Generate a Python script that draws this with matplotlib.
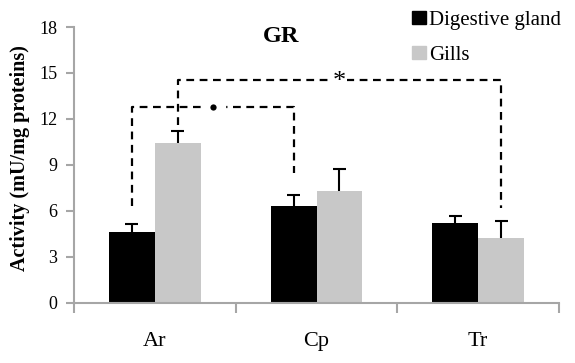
import numpy as np
import matplotlib.pyplot as plt
from matplotlib.patches import Patch

plt.rcParams['font.family'] = ['Liberation Serif', 'DejaVu Serif']

# GR activity per site and tissue (mean, upper SD)
sites = ['Ar', 'Cp', 'Tr']
tissues = ['Digestive gland', 'Gills']
digestive = [4.64, 6.32, 5.19]
digestive_err = [0.48, 0.72, 0.50]
gills = [10.42, 7.32, 4.21]
gills_err = [0.80, 1.42, 1.13]

# significance brackets: (bar a, bar b, bracket height, leg ends a/b, mark)
# bars are given as (site index, tissue index)
brackets = [
    ((0, 0), (1, 0), 12.8, 6.3, 8.5, '•'),
    ((0, 1), (2, 1), 14.55, 11.6, 6.2, '*'),
]

black = '#000000'
grey = '#c8c8c8'
spine = '#a6a6a6'

fig = plt.figure(figsize=(5.75, 3.63), dpi=100)
ax = fig.add_axes([74 / 575, 1 - 302.7 / 363, (559 - 74) / 575, (302.7 - 27) / 363])

x = np.arange(len(sites))
w = 0.284
offs = [-w / 2, w / 2]
cap = 0.04

for vals, errs, col, off in [(digestive, digestive_err, black, offs[0]),
                             (gills, gills_err, grey, offs[1])]:
    xs = x + off
    ax.bar(xs, vals, w, color=col, zorder=2)
    tops = np.array(vals) + np.array(errs)
    # upper-only error bars
    ax.vlines(xs, vals, tops, color='black', lw=1.5, zorder=3)
    ax.hlines(tops, xs - cap, xs + cap, color='black', lw=1.5, zorder=3)

dash = (0, (3.5, 2.5))
for a, b, h, ya, yb, mark in brackets:
    xa = a[0] + offs[a[1]]
    xb = b[0] + offs[b[1]]
    ax.plot([xa, xa, xb, xb], [ya, h, h, yb], color='black', lw=1.6,
            linestyle=dash, zorder=3)
    if mark == '•':
        ax.plot((xa + xb) / 2, h, 'o', color='black', ms=4.5, zorder=5,
                markeredgewidth=0)
        ax.add_patch(plt.Rectangle(((xa + xb) / 2 - 0.075, h - 0.3), 0.15, 0.6,
                                   color='white', zorder=4))
    else:
        ax.text((xa + xb) / 2, h - 0.15, mark, ha='center', va='center',
                fontsize=19, zorder=4,
                bbox=dict(facecolor='white', edgecolor='none', pad=0.5))

ax.set_xlim(-0.5, 2.5)
ax.set_ylim(0, 18)
ax.set_yticks(np.arange(0, 19, 3))
ax.set_xticks(x)
ax.set_xticklabels(sites, fontsize=16)
ax.set_xticks([-0.5, 0.5, 1.5, 2.5], minor=True)
ax.tick_params(axis='x', which='major', length=0, pad=21)
ax.tick_params(axis='x', which='minor', length=7, width=1.5, color=spine)
ax.tick_params(axis='y', length=6, width=1.5, color=spine, labelsize=13, pad=6)

for s in ['top', 'right']:
    ax.spines[s].set_visible(False)
for s in ['left', 'bottom']:
    ax.spines[s].set_color(spine)
    ax.spines[s].set_linewidth(1.5)

fig.text(20 / 575, 1 - 158 / 363, 'Activity (mU/mg proteins)', rotation=90,
         ha='center', va='center', fontsize=14.5, fontweight='bold')
fig.text(281 / 575, 1 - 36 / 363, 'GR', ha='center', va='center',
         fontsize=17.5, fontweight='bold')

handles = [Patch(color=black), Patch(color=grey)]
fig.legend(handles, tissues, loc='upper left', bbox_to_anchor=(412 / 575, 1 - 11 / 363),
           frameon=False, fontsize=15, handlelength=0.65, handleheight=0.6,
           handletextpad=0.15, labelspacing=0.75, borderpad=0, borderaxespad=0)

fig.savefig('out.png', dpi=100)
